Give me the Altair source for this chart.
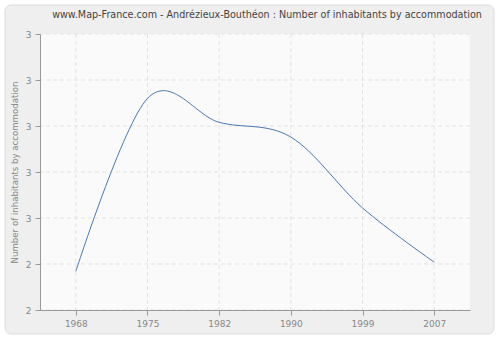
import altair as alt
import pandas as pd

years = ["1968", "1975", "1982", "1990", "1999", "2007"]
values = [2.442, 2.630, 2.604, 2.588, 2.511, 2.452]
y_ticks = [2.40, 2.45, 2.50, 2.55, 2.60, 2.65, 2.70]

W, H = 430, 276
FONT = "DejaVu Sans"

line_df = pd.DataFrame({"year": years, "value": values})
xgrid_df = pd.DataFrame({"year": years})
ygrid_df = pd.DataFrame({"value": y_ticks})
one = pd.DataFrame({"a": [0]})

xscale = alt.Scale(type="point", padding=0.5, domain=years)
yscale = alt.Scale(domain=[2.40, 2.70], nice=False, zero=False)

xaxis = alt.Axis(title=None, labelAngle=0, grid=False, ticks=True, tickSize=5,
                 labelPadding=4, zindex=1)
yaxis = alt.Axis(title="Number of inhabitants by accommodation", values=y_ticks,
                 format=".0f", grid=False, tickSize=5, labelPadding=4, zindex=1,
                 titleX=-26, titleY=H / 2, titleAngle=-90, titleAlign="center",
                 titleBaseline="middle")

X = alt.X("year:O", scale=xscale, axis=xaxis, sort=years)
Y = alt.Y("value:Q", scale=yscale, axis=yaxis)

outer = alt.Chart(one).mark_rect(fill="#efefef", stroke="#dcdcdc", strokeWidth=1,
                                 cornerRadius=6).encode(
    x=alt.value(-35), x2=alt.value(454), y=alt.value(-29), y2=alt.value(300))

inner = alt.Chart(one).mark_rect(fill="#fafafa", stroke=None).encode(
    x=alt.value(0), x2=alt.value(W), y=alt.value(0), y2=alt.value(H))

xgrid = alt.Chart(xgrid_df).mark_rule(color="#e2e2e2", strokeDash=[4, 3],
                                      strokeWidth=1).encode(x=X)
ygrid = alt.Chart(ygrid_df).mark_rule(color="#e2e2e2", strokeDash=[4, 3],
                                      strokeWidth=1).encode(y=Y)

line = alt.Chart(line_df).mark_line(color="#4a78b0", strokeWidth=1,
                                    interpolate="cardinal").encode(x=X, y=Y)

chart = alt.layer(outer, inner, xgrid, ygrid, line).properties(
    width=W, height=H,
    title=alt.TitleParams(
        "www.Map-France.com - Andrézieux-Bouthéon : Number of inhabitants by accommodation",
        anchor="middle", dx=12, dy=27, offset=12, fontSize=9.6, font=FONT,
        fontWeight="normal", color="#444444"),
    autosize=alt.AutoSizeParams(type="none"),
    padding={"left": 40, "top": 34, "right": 30, "bottom": 30},
    background="white",
).configure_view(stroke=None, fill=None).configure_axis(
    labelFont=FONT, titleFont=FONT, labelFontSize=9, titleFontSize=8.6,
    labelColor="#888888", titleColor="#888888", domainColor="#999999",
    tickColor="#999999", titleFontWeight="normal")

chart.save("out.html", embed_options={"renderer": "svg", "actions": False})
